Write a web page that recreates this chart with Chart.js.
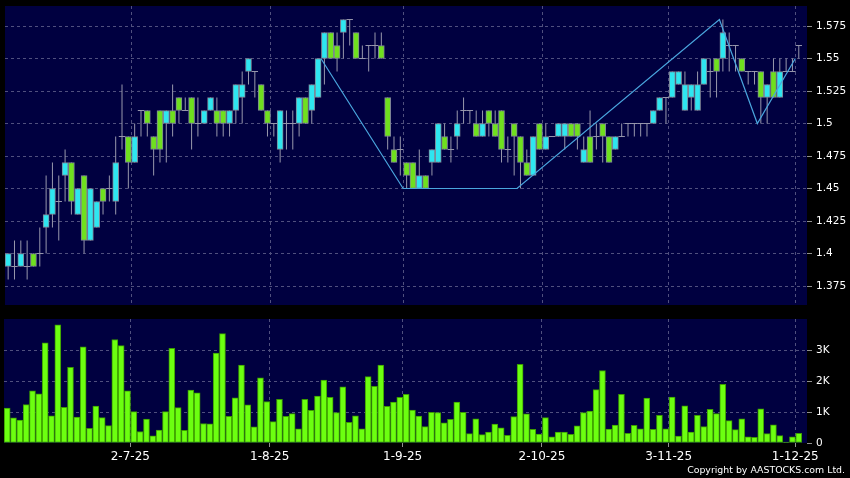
<!DOCTYPE html>
<html><head><meta charset="utf-8">
<script src="https://cdn.jsdelivr.net/npm/chart.js@4.4.0/dist/chart.umd.min.js"></script>
<style>
html,body{margin:0;padding:0;background:#000;width:850px;height:478px;overflow:hidden;}
#p{position:absolute;left:0;top:0;width:850px;height:312px;}
#v{position:absolute;left:0;top:312px;width:850px;height:166px;}
#copy{position:absolute;right:5px;top:464px;color:#fff;font:9.4px "DejaVu Sans";white-space:nowrap;line-height:11px;}
</style></head><body>
<div id="p"><canvas id="cp"></canvas></div>
<div id="v"><canvas id="cv"></canvas></div>
<div id="copy">Copyright by AASTOCKS.com Ltd.</div>
<script>
// ---- data (one entry per trading day, 3 Jun 2025 .. 2 Dec 2025) ----
const opens = [1.39,1.39,1.39,1.39,1.40,1.40,1.42,1.43,1.44,1.46,1.47,1.43,1.46,1.41,1.42,1.45,1.45,1.44,1.49,1.49,
1.47,1.51,1.51,1.49,1.51,1.50,1.51,1.52,1.51,1.52,1.50,1.50,1.51,1.51,1.51,1.50,1.51,1.52,1.54,1.54,
1.53,1.51,1.50,1.48,1.50,1.50,1.50,1.52,1.51,1.52,1.55,1.57,1.56,1.57,1.58,1.57,1.55,1.56,1.56,1.56,
1.52,1.48,1.48,1.47,1.47,1.45,1.46,1.47,1.47,1.49,1.48,1.49,1.51,1.51,1.50,1.49,1.51,1.50,1.51,1.48,
1.50,1.49,1.47,1.46,1.50,1.48,1.49,1.49,1.49,1.50,1.50,1.47,1.49,1.49,1.50,1.49,1.48,1.49,1.50,1.50,
1.50,1.50,1.50,1.51,1.52,1.52,1.53,1.51,1.52,1.51,1.53,1.54,1.55,1.55,1.56,1.56,1.55,1.54,1.54,1.54,
1.52,1.54,1.52,1.54,1.54,1.56];
const highs = [1.40,1.41,1.41,1.41,1.40,1.42,1.46,1.47,1.46,1.48,1.47,1.45,1.46,1.45,1.44,1.45,1.46,1.49,1.53,1.49,
1.50,1.51,1.51,1.49,1.51,1.51,1.53,1.52,1.52,1.52,1.52,1.51,1.52,1.52,1.51,1.51,1.53,1.54,1.55,1.54,
1.53,1.51,1.50,1.51,1.51,1.51,1.52,1.52,1.53,1.55,1.57,1.57,1.57,1.58,1.58,1.57,1.56,1.56,1.57,1.57,
1.52,1.49,1.49,1.47,1.47,1.48,1.46,1.48,1.50,1.50,1.49,1.51,1.52,1.51,1.51,1.51,1.51,1.51,1.51,1.49,
1.50,1.49,1.48,1.49,1.50,1.50,1.49,1.50,1.50,1.50,1.50,1.49,1.51,1.50,1.50,1.49,1.49,1.50,1.50,1.50,
1.50,1.50,1.51,1.52,1.52,1.54,1.54,1.54,1.53,1.54,1.55,1.55,1.55,1.58,1.57,1.56,1.55,1.54,1.54,1.54,
1.53,1.55,1.55,1.55,1.55,1.56];
const lows = [1.38,1.38,1.39,1.38,1.39,1.39,1.40,1.42,1.41,1.44,1.43,1.43,1.40,1.41,1.42,1.43,1.44,1.43,1.48,1.45,
1.47,1.49,1.49,1.46,1.47,1.47,1.49,1.50,1.51,1.48,1.49,1.50,1.51,1.49,1.49,1.49,1.50,1.50,1.53,1.52,
1.51,1.49,1.49,1.47,1.48,1.48,1.49,1.50,1.50,1.52,1.53,1.55,1.54,1.55,1.56,1.55,1.55,1.54,1.55,1.55,
1.48,1.47,1.46,1.45,1.45,1.45,1.45,1.46,1.47,1.48,1.47,1.48,1.50,1.50,1.49,1.49,1.49,1.49,1.47,1.47,
1.46,1.45,1.46,1.46,1.48,1.48,1.49,1.49,1.48,1.49,1.48,1.47,1.47,1.48,1.47,1.47,1.48,1.49,1.49,1.49,
1.49,1.49,1.50,1.51,1.50,1.52,1.53,1.51,1.51,1.51,1.53,1.52,1.52,1.54,1.54,1.54,1.54,1.53,1.53,1.50,
1.50,1.52,1.52,1.54,1.54,1.55];
const closes = [1.40,1.39,1.40,1.39,1.39,1.40,1.43,1.45,1.44,1.47,1.44,1.45,1.41,1.45,1.44,1.44,1.45,1.47,1.49,1.47,
1.49,1.51,1.50,1.48,1.48,1.51,1.50,1.51,1.51,1.50,1.50,1.51,1.52,1.50,1.50,1.51,1.53,1.53,1.55,1.54,
1.51,1.50,1.50,1.51,1.50,1.50,1.52,1.50,1.53,1.55,1.57,1.55,1.55,1.58,1.58,1.55,1.55,1.56,1.56,1.55,
1.49,1.47,1.48,1.46,1.45,1.46,1.45,1.48,1.50,1.48,1.48,1.50,1.51,1.51,1.49,1.50,1.50,1.49,1.48,1.48,
1.49,1.47,1.46,1.49,1.48,1.49,1.49,1.50,1.50,1.49,1.49,1.48,1.47,1.49,1.49,1.47,1.49,1.49,1.50,1.50,
1.50,1.50,1.51,1.52,1.52,1.54,1.54,1.53,1.53,1.53,1.55,1.54,1.54,1.57,1.56,1.56,1.54,1.54,1.54,1.52,
1.53,1.52,1.54,1.54,1.54,1.56];
const volumes = [1130,810,740,1240,1680,1590,3230,880,3810,1150,2440,840,3100,470,1190,820,560,3340,3140,1680,
1010,370,770,230,420,1010,3050,1140,410,1710,1620,630,620,2900,3530,860,1460,2510,1230,520,
2100,1340,690,1410,860,950,460,1410,1050,1510,2030,1470,980,1810,670,880,460,2140,1830,2510,
1180,1320,1470,1570,1060,870,530,990,980,650,760,1320,990,300,780,270,350,610,490,250,
850,2540,940,440,290,820,200,350,350,280,550,980,1030,1720,2340,450,580,1570,310,570,
460,1450,440,890,460,1480,220,1200,350,890,530,1090,950,1890,720,430,780,200,180,1100,
300,590,240,30,200,310];
const zigzagIdx = [50, 63, 81, 113, 119, 125];
const zigzagVal = [1.55, 1.45, 1.45, 1.58, 1.50, 1.55];
const dateTickIdx = [20, 42, 63, 85, 105, 125];
const dateTickLabels = ['2-7-25','1-8-25','1-9-25','2-10-25','3-11-25','1-12-25'];
const priceTicks = [1.375,1.4,1.425,1.45,1.475,1.5,1.525,1.55,1.575];
const volumeTicks = [0,1000,2000,3000];
const volumeTickLabels = ['0','1K','2K','3K'];

// ---- styling ----
const NAVY='#000040', GRID='#50507e', CYAN='#2ee6f0', GREEN='#6fe01e', EDGE='#7e8696', WICK='#9898ac';
const VOL_FILL='#6cff10', VOL_EDGE='#3c9c00', ZZ='#4aa6de', TXT='#ffffff';
const FONT='DejaVu Sans';
const X_MIN=-0.5, X_MAX=126.3, GRID_SHIFT=0.55;

const idx = opens.map((_, i) => i);
const wickData = idx.map(i => ({x:i, y:[lows[i], highs[i]]}));
const bodyData = idx.map(i => ({x:i, y: opens[i] === closes[i] ? null : [opens[i], closes[i]]}));
const dojiData = idx.map(i => ({x:i, y: opens[i] === closes[i] ? opens[i] : null}));
const zzData = zigzagIdx.map((v, k) => ({x: v - GRID_SHIFT, y: zigzagVal[k]}));
const volData = idx.map(i => ({x:i, y: volumes[i]}));

const bgPlugin = {id:'bg', beforeDraw(c){const {ctx, chartArea:a}=c; ctx.save(); ctx.fillStyle=NAVY; ctx.fillRect(a.left,a.top,a.width,a.height); ctx.restore();}};
function noPad(s){ s.paddingTop=0; s.paddingBottom=0; s.paddingLeft=0; s.paddingRight=0; }
function xTicks(s){ s.ticks = dateTickIdx.map(v => ({value: v - GRID_SHIFT})); }

new Chart(document.getElementById('cp'), {
  type:'bar',
  data:{datasets:[
    {type:'line', data:zzData, borderColor:ZZ, borderWidth:1.2, pointRadius:0, fill:false, tension:0, order:0},
    {type:'line', data:dojiData, showLine:false, pointStyle:'line', pointRadius:3.2, borderColor:WICK, borderWidth:1, order:1},
    {data:bodyData, grouped:false, barThickness:6, borderWidth:1, borderColor:EDGE, borderSkipped:false,
     backgroundColor: c => closes[c.dataIndex] > opens[c.dataIndex] ? CYAN : GREEN, order:2},
    {data:wickData, grouped:false, barThickness:1, borderWidth:0, inflateAmount:0, backgroundColor:WICK, order:3}
  ]},
  options:{
    responsive:true, maintainAspectRatio:false, animation:false, events:[],
    layout:{padding:{left:4, top:6, right:0, bottom:7}},
    plugins:{legend:{display:false}, tooltip:{enabled:false}},
    scales:{
      x:{type:'linear', min:X_MIN, max:X_MAX, offset:false, afterBuildTicks:xTicks,
         afterFit:s=>{s.height=0; noPad(s);},
         ticks:{display:false}, grid:{offset:false, color:GRID, drawTicks:false}, border:{display:false, dash:[3,3]}},
      y:{position:'right', min:1.3604, max:1.5904,
         afterBuildTicks:s=>{s.ticks = priceTicks.map(v=>({value:v}));},
         afterFit:s=>{s.width=43; noPad(s);},
         ticks:{color:TXT, font:{family:FONT, size:10.5}, padding:4, callback:v=>String(v)},
         grid:{color:GRID, drawTicks:true, tickLength:5, tickColor:'#909090'}, border:{display:false, dash:[3,3]}}
    }
  },
  plugins:[bgPlugin]
});

new Chart(document.getElementById('cv'), {
  type:'bar',
  data:{datasets:[
    {data:volData, grouped:false, barThickness:6, borderWidth:1, borderColor:VOL_EDGE, borderSkipped:false, backgroundColor:VOL_FILL}
  ]},
  options:{
    responsive:true, maintainAspectRatio:false, animation:false, events:[],
    layout:{padding:{left:4, top:7, right:0, bottom:0}},
    plugins:{legend:{display:false}, tooltip:{enabled:false}},
    scales:{
      x:{type:'linear', min:X_MIN, max:X_MAX, offset:false, afterBuildTicks:xTicks,
         afterFit:s=>{s.height=35; noPad(s);},
         ticks:{color:TXT, font:{family:FONT, size:12}, padding:3, maxRotation:0, autoSkip:false,
                callback:(v,i)=>dateTickLabels[i]},
         grid:{offset:false, color:GRID, drawTicks:true, tickLength:4, tickColor:'#909090'}, border:{display:false, dash:[3,3]}},
      y:{position:'right', min:0, max:4000,
         afterBuildTicks:s=>{s.ticks = volumeTicks.map(v=>({value:v}));},
         afterFit:s=>{s.width=43; noPad(s);},
         ticks:{color:TXT, font:{family:FONT, size:10.5}, padding:4, callback:(v,i)=>volumeTickLabels[i]},
         grid:{color:c => c.tick && c.tick.value===0 ? 'rgba(0,0,0,0)' : GRID, drawTicks:true, tickLength:5, tickColor:'#909090'},
         border:{display:false, dash:[3,3]}}
    }
  },
  plugins:[bgPlugin]
});
</script>
</body></html>
